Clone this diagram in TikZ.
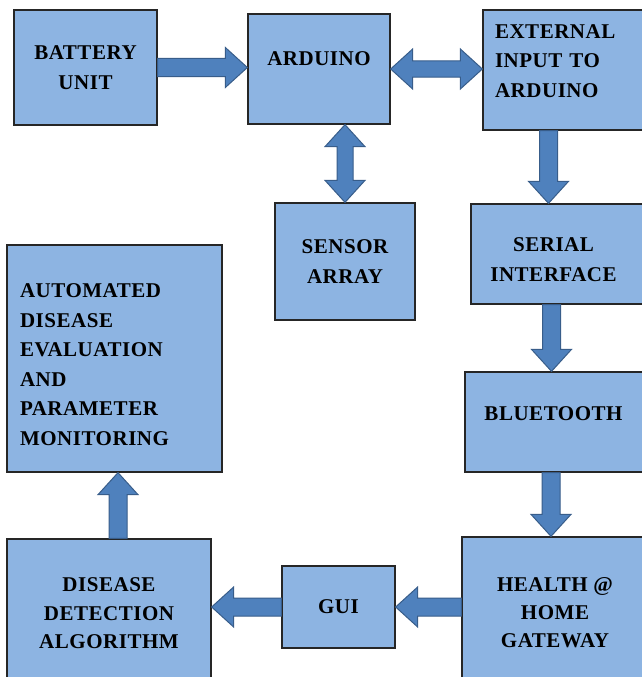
\documentclass[tikz,border=0pt]{standalone}
\usepackage{fontspec}
\setmainfont{Liberation Serif}[LetterSpace=2.5]
\usetikzlibrary{calc}
\definecolor{boxfill}{HTML}{8DB4E2}
\definecolor{boxline}{HTML}{262626}
\definecolor{arrfill}{HTML}{4F81BD}
\definecolor{arrline}{HTML}{385D8A}
\newcommand{\shiftup}[2]{\raisebox{#1}[\height][\depth]{#2}}
\tikzset{
  blk/.style={draw=boxline, line width=1.3pt, fill=boxfill, inner sep=0pt,
    font=\bfseries\fontsize{21}{29.5}\selectfont, align=center},
  fatr/.style={draw=arrline, fill=arrfill, line width=1pt, line join=miter,
    to path={
      -- ($(\tikztostart)!9pt!90:(\tikztotarget)$)
      -- ($($(\tikztotarget)!22pt!(\tikztostart)$)!9pt!90:(\tikztotarget)$)
      -- ($($(\tikztotarget)!22pt!(\tikztostart)$)!20pt!90:(\tikztotarget)$)
      -- (\tikztotarget)
      -- ($($(\tikztotarget)!22pt!(\tikztostart)$)!20pt!-90:(\tikztotarget)$)
      -- ($($(\tikztotarget)!22pt!(\tikztostart)$)!9pt!-90:(\tikztotarget)$)
      -- ($(\tikztostart)!9pt!-90:(\tikztotarget)$)
      -- cycle}},
  fatlr/.style={draw=arrline, fill=arrfill, line width=1pt, line join=miter,
    to path={
      -- ($($(\tikztostart)!22pt!(\tikztotarget)$)!20pt!90:(\tikztotarget)$)
      -- ($($(\tikztostart)!22pt!(\tikztotarget)$)!8pt!90:(\tikztotarget)$)
      -- ($($(\tikztotarget)!22pt!(\tikztostart)$)!8pt!90:(\tikztotarget)$)
      -- ($($(\tikztotarget)!22pt!(\tikztostart)$)!20pt!90:(\tikztotarget)$)
      -- (\tikztotarget)
      -- ($($(\tikztotarget)!22pt!(\tikztostart)$)!20pt!-90:(\tikztotarget)$)
      -- ($($(\tikztotarget)!22pt!(\tikztostart)$)!8pt!-90:(\tikztotarget)$)
      -- ($($(\tikztostart)!22pt!(\tikztotarget)$)!8pt!-90:(\tikztotarget)$)
      -- ($($(\tikztostart)!22pt!(\tikztotarget)$)!20pt!-90:(\tikztotarget)$)
      -- cycle}}
}
\begin{document}
\begin{tikzpicture}[x=1pt,y=-1pt]
\useasboundingbox (0,0) rectangle (641,677);
\fill[white] (0,0) rectangle (641,677);

\node[blk, minimum width=143, minimum height=115] (battery) at (85.5,67.5) {BATTERY\\UNIT};
\node[blk, minimum width=142, minimum height=110] (arduino) at (319,69) {\shiftup{10.5pt}{ARDUINO}};
\node[blk, minimum width=165, minimum height=120, text width=141, inner xsep=12pt, align=left] (external) at (565.5,70) {\shiftup{8pt}{\begin{tabular}{@{}l@{}}EXTERNAL\\INPUT TO\\ARDUINO\end{tabular}}};
\node[blk, minimum width=140, minimum height=117] (sensor) at (345,261.5) {SENSOR\\ARRAY};
\node[blk, minimum width=177, minimum height=100] (serial) at (559.5,254) {\hspace*{-12pt}\shiftup{-6.5pt}{\begin{tabular}{@{}c@{}}SERIAL\\INTERFACE\end{tabular}}};
\node[blk, minimum width=215, minimum height=227, text width=189, inner xsep=13pt, align=left] (auto) at (114.5,358.5) {\shiftup{-7pt}{\begin{tabular}{@{}l@{}}AUTOMATED\\DISEASE\\EVALUATION\\AND\\PARAMETER\\MONITORING\end{tabular}}};
\node[blk, minimum width=183, minimum height=100] (bluetooth) at (556.5,422) {\hspace*{-6pt}\shiftup{8.5pt}{BLUETOOTH}};
\node[blk, minimum width=186, minimum height=153] (gateway) at (555,613.5) {\begin{tabular}{@{}c@{}}HEALTH @\\[-1.5pt]HOME\\[-1.5pt]GATEWAY\end{tabular}};
\node[blk, minimum width=113, minimum height=82] (gui) at (338.5,607) {GUI};
\node[blk, minimum width=204, minimum height=151] (disease) at (109,614.5) {\begin{tabular}{@{}c@{}}DISEASE\\[-1pt]DETECTION\\[-1pt]ALGORITHM\end{tabular}};

\path ([xshift=-11pt]serial.north) coordinate (es);
\path ([xshift=-8pt]serial.south) coordinate (sb);
\path ([xshift=9pt]disease.north) coordinate (da);

\draw[fatr] (battery.east) to (battery.east -| arduino.west);
\draw[fatlr] (arduino.east) to (arduino.east -| external.west);
\draw[fatlr] (sensor.north |- arduino.south) to (sensor.north);
\draw[fatr] (es |- external.south) to (es);
\draw[fatr] (sb) to (sb |- bluetooth.north);
\draw[fatr] ([xshift=-4pt]gateway.north |- bluetooth.south) to ([xshift=-4pt]gateway.north);
\draw[fatr] (gui.east -| gateway.west) to (gui.east);
\draw[fatr] (gui.west) to (gui.west -| disease.east);
\draw[fatr] (da) to (da |- auto.south);
\end{tikzpicture}
\end{document}
